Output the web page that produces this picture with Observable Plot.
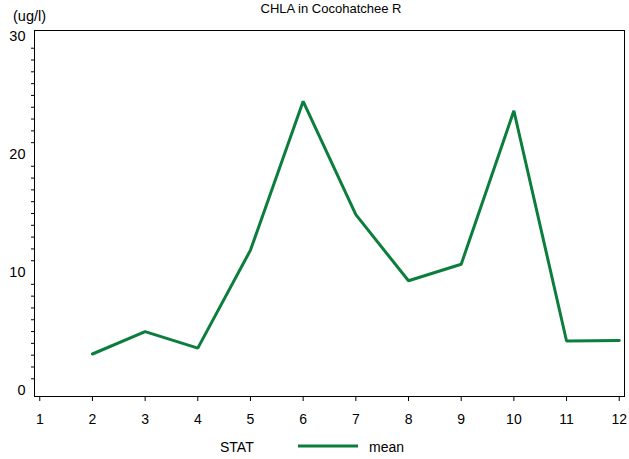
<!DOCTYPE html>
<html>
<head>
<meta charset="utf-8">
<script src="https://cdn.jsdelivr.net/npm/d3@7"></script>
<script src="https://cdn.jsdelivr.net/npm/@observablehq/plot@0.6"></script>
<style>
  html, body { margin: 0; padding: 0; background: #fff; }
  body { width: 629px; height: 459px; overflow: hidden; font-family: "Liberation Sans", Arial, sans-serif; color: #000; }
  #head { position: relative; height: 24px; }
  #title { position: absolute; left: 0; width: 662px; top: 1px; text-align: center; font-size: 13px; line-height: 16px; }
  #ylab { position: absolute; left: 13px; top: 8px; font-size: 14.5px; line-height: 16px; }
  #legend { position: relative; height: 29px; font-size: 14px; }
  #legend .t { position: absolute; top: 9px; line-height: 16px; }
  #legend svg { position: absolute; left: 298px; top: 14px; }
</style>
</head>
<body>
<div id="head"><div id="title">CHLA in Cocohatchee R</div><div id="ylab">(ug/l)</div></div>
<div id="chart"></div>
<div id="legend">
  <span class="t" style="left:220px">STAT</span>
  <svg width="60" height="4"><line x1="0" x2="60" y1="2" y2="2" stroke="#0b7e3d" stroke-width="3"/></svg>
  <span class="t" style="left:369px">mean</span>
</div>
<script>
const months = [2, 3, 4, 5, 6, 7, 8, 9, 10, 11, 12];
const meanValues = [3.1, 5.0, 3.6, 11.9, 24.5, 14.9, 9.3, 10.7, 23.7, 4.2, 4.25];
const xTicks = [1, 2, 3, 4, 5, 6, 7, 8, 9, 10, 11, 12];
const yMajor = [0, 10, 20, 30];
const yMinor = d3.range(0, 31).filter(v => v % 10 !== 0);
const lineColor = "#0b7e3d";

const data = months.map((m, i) => ({month: m, value: meanValues[i]}));

const chart = Plot.plot({
  width: 629,
  height: 406,
  marginTop: 6,
  marginBottom: 34,
  marginLeft: 34,
  marginRight: 5,
  style: {fontFamily: "Liberation Sans, Arial, sans-serif", fontSize: "14px", color: "#000", background: "#fff"},
  x: {domain: [0.9, 12.1]},
  y: {domain: [-0.5, 30.5]},
  marks: [
    Plot.frame({stroke: "#000", strokeWidth: 1}),
    Plot.axisY(yMinor, {tickSize: 3, tickFormat: () => "", label: null, stroke: "#000"}),
    Plot.axisY(yMajor, {tickSize: 0, tickPadding: 9, label: null, fontSize: 14.5}),
    Plot.axisX(xTicks, {tickSize: 5, tickPadding: 13, label: null, fontSize: 14, stroke: "#000"}),
    Plot.line(data, {x: "month", y: "value", stroke: lineColor, strokeWidth: 3, strokeLinejoin: "miter"})
  ]
});
document.getElementById("chart").appendChild(chart);
</script>
</body>
</html>
